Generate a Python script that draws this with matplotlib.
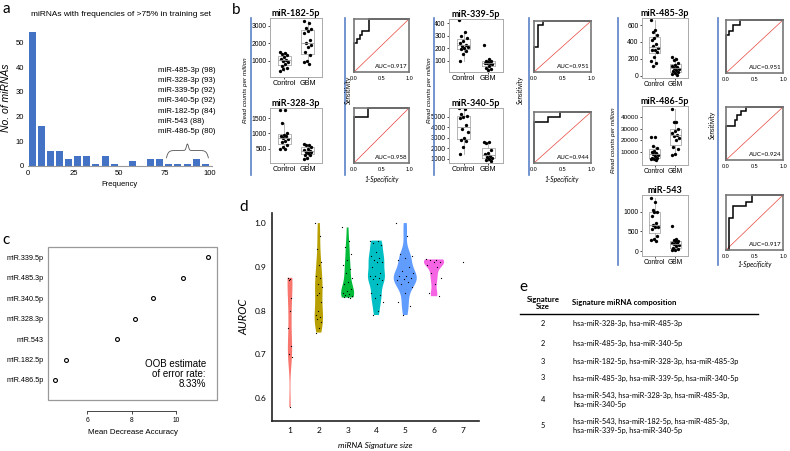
import matplotlib
matplotlib.use("Agg")
import matplotlib.pyplot as plt
from matplotlib.lines import Line2D
from matplotlib.patches import Rectangle
import numpy as np

plt.rcParams['font.family'] = ['Liberation Sans', 'DejaVu Sans']

# ---------------- data ----------------
# a: histogram of selection frequency
bin_starts = [0, 5, 10, 15, 20, 25, 30, 35, 40, 45, 50, 55, 60, 65, 70, 75, 80, 85, 90, 95]
hist_counts = [54, 16, 6, 6, 3, 4, 4, 1, 4, 1, 0, 2, 0, 3, 3, 1, 1, 1, 3, 1]
top_mirnas = ["miR-485-3p (98)", "miR-328-3p (93)", "miR-339-5p (92)", "miR-340-5p (92)",
              "miR-182-5p (84)", "miR-543 (88)", "miR-486-5p (80)"]

# b: read counts per million (Control / GBM)
ctrl_182 = [1500, 1450, 1400, 1300, 1200, 1100, 1050, 1000, 900, 800, 700, 600, 500, 400]
gbm_182 = [3300, 3150, 2900, 2800, 2700, 2600, 2200, 2000, 1900, 1800, 1500, 1300, 1000, 900, 800]
ctrl_328 = [1780, 1770, 1350, 1000, 950, 900, 900, 850, 800, 750, 700, 600, 550, 500, 480]
gbm_328 = [650, 620, 600, 550, 500, 450, 420, 400, 380, 350, 300, 280, 200, 150]
ctrl_339 = [430, 330, 300, 280, 260, 240, 230, 220, 210, 200, 190, 180, 150, 100]
gbm_339 = [225, 110, 100, 95, 90, 85, 80, 80, 75, 60, 40, 30, 25]
ctrl_340 = [5800, 5700, 5300, 5100, 5000, 4900, 4200, 3800, 3500, 3000, 2800, 2700, 2100, 1400]
gbm_340 = [2600, 2600, 2500, 1800, 1500, 1400, 1300, 1200, 1100, 1000, 900, 800]
ctrl_485 = [660, 540, 520, 480, 450, 420, 380, 350, 330, 310, 300, 280, 220, 180, 150, 120]
gbm_485 = [220, 200, 190, 150, 130, 110, 100, 90, 80, 70, 50, 40, 30, 20, 10]
ctrl_486 = [23000, 23000, 15000, 13000, 11000, 10000, 9000, 8000, 7000, 6000, 5000, 5000, 4000, 3500, 3000]
gbm_486 = [47000, 36000, 36000, 30000, 28000, 26000, 25000, 24000, 22000, 20000, 14000, 12000, 8000, 7000]
ctrl_543 = [1350, 1250, 1050, 1000, 980, 900, 700, 650, 620, 600, 550, 380, 300, 280, 250]
gbm_543 = [630, 300, 280, 260, 250, 220, 200, 180, 150, 120, 80, 50, 30, 20]

# b: ROC curves
fpr_182 = [0, 0, 0.05, 0.05, 0.1, 0.1, 0.15, 0.15, 0.27, 0.27, 1]
tpr_182 = [0, 0.55, 0.55, 0.62, 0.62, 0.7, 0.7, 0.78, 0.78, 1, 1]
fpr_328 = [0, 0, 0.25, 0.25, 1]
tpr_328 = [0, 0.83, 0.83, 1, 1]
fpr_339 = [0, 0, 0.07, 0.07, 0.15, 0.15, 1]
tpr_339 = [0, 0.5, 0.5, 0.92, 0.92, 1, 1]
fpr_340 = [0, 0, 0.25, 0.25, 0.45, 0.45, 1]
tpr_340 = [0, 0.8, 0.8, 0.9, 0.9, 1, 1]
fpr_485 = [0, 0, 0.05, 0.05, 0.12, 0.12, 0.25, 0.25, 1]
tpr_485 = [0, 0.72, 0.72, 0.8, 0.8, 0.9, 0.9, 1, 1]
fpr_486 = [0, 0, 0.15, 0.15, 0.2, 0.2, 0.27, 0.27, 0.35, 0.35, 1]
tpr_486 = [0, 0.65, 0.65, 0.75, 0.75, 0.85, 0.85, 0.93, 0.93, 1, 1]
fpr_543 = [0, 0.05, 0.05, 0.12, 0.12, 0.35, 0.35, 0.45, 0.45, 1]
tpr_543 = [0, 0, 0.58, 0.58, 0.8, 0.8, 0.88, 0.88, 1, 1]

# c: random forest importance (top to bottom)
imp_names = ["miR.339.5p", "miR.485.3p", "miR.340.5p", "miR.328.3p", "miR.543", "miR.182.5p", "miR.486.5p"]
imp_values = [11.41, 10.30, 8.96, 8.12, 7.33, 5.05, 4.54]

# d: AUROC by signature size
auroc_1 = [0.875, 0.872, 0.87, 0.83, 0.80, 0.76, 0.72, 0.70, 0.695, 0.58]
auroc_2 = [1.0, 0.97, 0.94, 0.91, 0.905, 0.88, 0.875, 0.86, 0.855, 0.84, 0.835, 0.82,
           0.80, 0.79, 0.785, 0.78, 0.775, 0.76, 0.75]
auroc_3 = [0.99, 0.96, 0.945, 0.93, 0.915, 0.905, 0.895, 0.885, 0.875, 0.865, 0.86, 0.85,
           0.845, 0.84, 0.838, 0.835, 0.833, 0.832, 0.831, 0.83]
auroc_4 = [0.96, 0.958, 0.955, 0.95, 0.935, 0.925, 0.92, 0.915, 0.912, 0.91, 0.90, 0.885,
           0.88, 0.878, 0.875, 0.872, 0.87, 0.86, 0.84, 0.835, 0.83, 0.82, 0.80, 0.79]
auroc_5 = [1.0, 0.97, 0.93, 0.925, 0.92, 0.915, 0.90, 0.89, 0.885, 0.88, 0.878, 0.875,
           0.872, 0.87, 0.865, 0.86, 0.855, 0.84, 0.82, 0.81, 0.79]
auroc_6 = [0.917, 0.916, 0.915, 0.912, 0.91, 0.905, 0.90, 0.885, 0.875, 0.86, 0.84, 0.833]
auroc_7 = [0.912]
violin_colors = ['#F8766D', '#B79F00', '#00BA38', '#00BFC4', '#619CFF', '#F564E3']

# e: signature table
sig_sizes = ["2", "2", "3", "3", "4", "5"]
sig_comp = ["hsa-miR-328-3p, hsa-miR-485-3p",
            "hsa-miR-485-3p, hsa-miR-340-5p",
            "hsa-miR-182-5p, hsa-miR-328-3p, hsa-miR-485-3p",
            "hsa-miR-485-3p, hsa-miR-339-5p, hsa-miR-340-5p",
            "hsa-miR-543, hsa-miR-328-3p, hsa-miR-485-3p,\nhsa-miR-340-5p",
            "hsa-miR-543, hsa-miR-182-5p, hsa-miR-485-3p,\nhsa-miR-339-5p, hsa-miR-340-5p"]

# ---------------- figure ----------------
W, H = 790, 451
fig = plt.figure(figsize=(W / 100, H / 100), dpi=100)
CAL = ['Lato', 'DejaVu Sans']
BLUE = '#4472C4'


def ax_px(l, t, r, b):
    return fig.add_axes([l / W, 1 - b / H, (r - l) / W, (b - t) / H])


def ftext(x, y, s, **kw):
    return fig.text(x / W, 1 - y / H, s, **kw)


def vline(x, y0, y1):
    fig.add_artist(Line2D([x / W, x / W], [1 - y0 / H, 1 - y1 / H], color='#5b82c8', lw=1.2))


def jit(n, spread):
    return (np.arange(n) * 0.618 % 1 - 0.5) * spread


# panel labels
for lab, x, y in [('a', 6, 9), ('b', 236, 10), ('c', 6, 240), ('d', 244, 207), ('e', 523, 287)]:
    ftext(x, y, lab, fontsize=11, family=CAL, ha='center', va='center')

# ---- a ----
ax = ax_px(28, 30, 212, 166)
ax.bar([s + 0.4 for s in bin_starts], hist_counts, width=3.8, align='edge', color=BLUE)
ax.set_xlim(0, 101)
ax.set_ylim(0, 55)
ax.set_xticks([0, 25, 50, 75, 100])
ax.set_yticks([0, 10, 20, 30, 40, 50])
for s in ['top', 'right', 'left']:
    ax.spines[s].set_visible(False)
ax.spines['bottom'].set_color('#999999')
ax.spines['bottom'].set_linewidth(0.8)
ax.tick_params(length=0, labelsize=5.5, pad=3)
ax.set_xlabel('Frequency', fontsize=5.5, labelpad=3)
ax.set_ylabel('No. of miRNAs', fontsize=7.5, style='italic', labelpad=3)
ftext(121, 15, 'miRNAs with frequencies of >75% in training set', fontsize=6, ha='center', va='center')
for i, s in enumerate(top_mirnas):
    ftext(158, 70 + i * 10.3, s, fontsize=5.7, va='center')
# curly brace over the 75-100 bins
bx = np.linspace(0, 1, 200)
half = np.where(bx < 0.5, bx, 1 - bx)
by = 3.3 + 3.0 * (1 - np.exp(-half / 0.04)) + 2.6 * np.exp(-((bx - 0.5) / 0.035) ** 2)
ax.plot(76 + 23 * bx, by, color='#555555', lw=0.6)

# ---- b: box plots ----
def box_panel(rect, title, ctrl, gbm, ylim, ticks, tsize=4.9, xsize=5.2):
    a = ax_px(*rect)
    a.boxplot([ctrl, gbm], positions=[1, 2], widths=0.55, showfliers=False,
              boxprops=dict(color='#aaaaaa', lw=0.6), medianprops=dict(color='#999999', lw=0.6),
              whiskerprops=dict(color='#aaaaaa', lw=0.6), capprops=dict(lw=0))
    for pos, vals in [(1, ctrl), (2, gbm)]:
        a.plot(pos + jit(len(vals), 0.35), vals, 'o', color='black', ms=2.4, mew=0)
    a.set_xlim(0.4, 2.6)
    a.set_ylim(ylim)
    a.set_yticks(ticks)
    a.set_yticklabels([str(t) for t in ticks])
    a.set_xticks([1, 2])
    a.set_xticklabels(['Control', 'GBM'])
    a.tick_params(axis='y', labelsize=tsize, length=1.5, width=0.5, pad=1)
    a.tick_params(axis='x', labelsize=xsize, length=1.5, width=0.5, pad=1)
    for sp in a.spines.values():
        sp.set_color('#aaaaaa')
        sp.set_linewidth(0.7)
    a.set_title(title, fontsize=6.5, fontweight='bold', family=CAL, pad=1.5)
    return a


box_panel((270, 18, 322, 77), 'miR-182-5p', ctrl_182, gbm_182, (60, 3460), [1000, 2000, 3000])
box_panel((270, 108, 322, 163), 'miR-328-3p', ctrl_328, gbm_328, (25, 1830), [500, 1000, 1500])
box_panel((449, 19, 503, 72), 'miR-339-5p', ctrl_339, gbm_339, (9, 435), [100, 200, 300, 400])
box_panel((449, 108, 503, 163), 'miR-340-5p', ctrl_340, gbm_340, (590, 5830), [1000, 2000, 3000, 4000, 5000])
box_panel((642, 18, 688, 78), 'miR-485-3p', ctrl_485, gbm_485, (-27, 683), [0, 200, 400, 600], xsize=4.8)
box_panel((642, 106, 688, 165), 'miR-486-5p', ctrl_486, gbm_486, (-1500, 49800), [10000, 20000, 30000, 40000], 4.6, 4.8)
box_panel((642, 195, 688, 256), 'miR-543', ctrl_543, gbm_543, (-120, 1418), [0, 500, 1000], xsize=4.8)


# ---- b: ROC ----
def roc_panel(rect, fpr, tpr, auc):
    a = ax_px(*rect)
    a.plot([0, 1], [0, 1], color='#e8453c', lw=0.5)
    a.plot(fpr, tpr, color='black', lw=1.1, clip_on=False, solid_joinstyle='miter')
    a.set_xlim(0, 1)
    a.set_ylim(0, 1)
    a.set_yticks([])
    a.set_xticks([0, 0.5, 1])
    a.set_xticklabels(['0.0', '0.5', '1.0'])
    a.tick_params(labelsize=4, length=0, pad=3)
    for sp in a.spines.values():
        sp.set_color('#777777')
        sp.set_linewidth(1.2)
    a.text(0.97, 0.05, 'AUC=' + auc, transform=a.transAxes, ha='right', va='bottom', fontsize=4.5, family=CAL)
    return a


roc_panel((354, 19, 409, 72), fpr_182, tpr_182, '0.917')
roc_panel((354, 108, 409, 163), fpr_328, tpr_328, '0.958')
roc_panel((534, 21, 591, 72), fpr_339, tpr_339, '0.951')
roc_panel((534, 112, 591, 163), fpr_340, tpr_340, '0.944')
roc_panel((726, 20, 783, 73), fpr_485, tpr_485, '0.951')
roc_panel((726, 107, 783, 160), fpr_486, tpr_486, '0.924')
roc_panel((726, 195, 783, 250), fpr_543, tpr_543, '0.917')

# separators and shared labels of b
for x, y0, y1 in [(251, 18, 175), (345, 18, 175), (434, 18, 175), (529, 18, 175), (618, 18, 265), (718, 18, 265)]:
    vline(x, y0, y1)
for x, y in [(245, 90), (429, 90), (613, 140)]:
    ftext(x, y, 'Read counts per million', fontsize=4.5, style='italic', rotation=90, ha='center', va='center')
for x, y in [(348, 90), (520, 90), (712, 125)]:
    ftext(x, y, 'Sensitivity', fontsize=4.8, style='italic', rotation=90, ha='center', va='center', family=CAL)
for x, y in [(382, 179), (562, 179), (755, 265)]:
    ftext(x, y, '1-Specificity', fontsize=4.8, style='italic', ha='center', va='center', family=CAL)

# ---- c ----
ax = ax_px(48, 247, 217, 400)
rows = list(range(len(imp_names), 0, -1))
ax.plot(imp_values, rows, 'o', mfc='none', mec='black', ms=2.8, mew=0.8)
ax.set_xlim(4.24, 11.82)
ax.set_ylim(0.02, 7.5)
ax.set_yticks(rows)
ax.set_yticklabels(imp_names)
ax.tick_params(axis='y', length=0, labelsize=5.2, pad=3)
ax.set_xticks([6, 8, 10])
ax.tick_params(axis='x', length=2, width=0.5, labelsize=4.8, pad=2)
for s in ['top', 'right', 'left']:
    ax.spines[s].set_visible(False)
ax.spines['bottom'].set_position(('outward', 8))
ax.spines['bottom'].set_bounds(6, 10)
ax.spines['bottom'].set_linewidth(0.5)
ax.add_patch(Rectangle((0, 0), 1, 1, transform=ax.transAxes, fill=False, ec='#999999', lw=0.9, clip_on=False))
ax.set_xlabel('Mean Decrease Accuracy', fontsize=5.7, labelpad=4)
ftext(206, 374, 'OOB estimate\nof error rate:\n8.33%', fontsize=7, ha='right', va='center', linespacing=1.05)

# ---- d ----
ax = ax_px(272, 213, 479, 421)
groups = [auroc_1, auroc_2, auroc_3, auroc_4, auroc_5, auroc_6]
vwidths = [0.17, 0.29, 0.45, 0.59, 0.8, 0.7]
for i, vals in enumerate(groups):
    parts = ax.violinplot([vals], positions=[i + 1], widths=[vwidths[i]], showextrema=False, bw_method=0.35)
    for body in parts['bodies']:
        body.set_facecolor(violin_colors[i])
        body.set_edgecolor('none')
        body.set_alpha(1)
for i, vals in enumerate(groups + [auroc_7]):
    spread = vwidths[i] * 0.8 if i < 6 else 0
    ax.plot(i + 1 + jit(len(vals), spread), vals, 'o', color='black', ms=0.9, mew=0)
ax.set_xlim(0.375, 7.56)
ax.set_ylim(0.548, 1.023)
ax.set_xticks(range(1, 8))
ax.set_yticks([0.6, 0.7, 0.8, 0.9, 1.0])
ax.set_yticklabels(['0.6', '0.7', '0.8', '0.9', '1.0'])
ax.tick_params(length=0, labelsize=6, pad=4)
for lab in ax.get_xticklabels() + ax.get_yticklabels():
    lab.set_family(CAL)
for s in ['top', 'right']:
    ax.spines[s].set_visible(False)
for s in ['left', 'bottom']:
    ax.spines[s].set_linewidth(1.2)
    ax.spines[s].set_color('#222222')
ax.set_ylabel('AUROC', fontsize=8, style='italic', family=CAL, labelpad=4)
ax.set_xlabel('miRNA Signature size', fontsize=6, style='italic', family=CAL, labelpad=6)

# ---- e ----
ftext(543, 303, 'Signature\nSize', fontsize=5.6, fontweight='bold', family=CAL, ha='center', va='center', linespacing=1.1)
ftext(572, 303, 'Signature miRNA composition', fontsize=5.6, fontweight='bold', family=CAL, va='center')
fig.add_artist(Line2D([520 / W, 758 / W], [1 - 314 / H, 1 - 314 / H], color='black', lw=1))
row_y = [323, 343, 361, 378, 400, 426]
for y, n, comp in zip(row_y, sig_sizes, sig_comp):
    ftext(543, y, n, fontsize=5.3, family=CAL, ha='center', va='center')
    ftext(573, y, comp, fontsize=5.3, family=CAL, va='center', linespacing=1.45)

fig.savefig('out.png', dpi=100)
